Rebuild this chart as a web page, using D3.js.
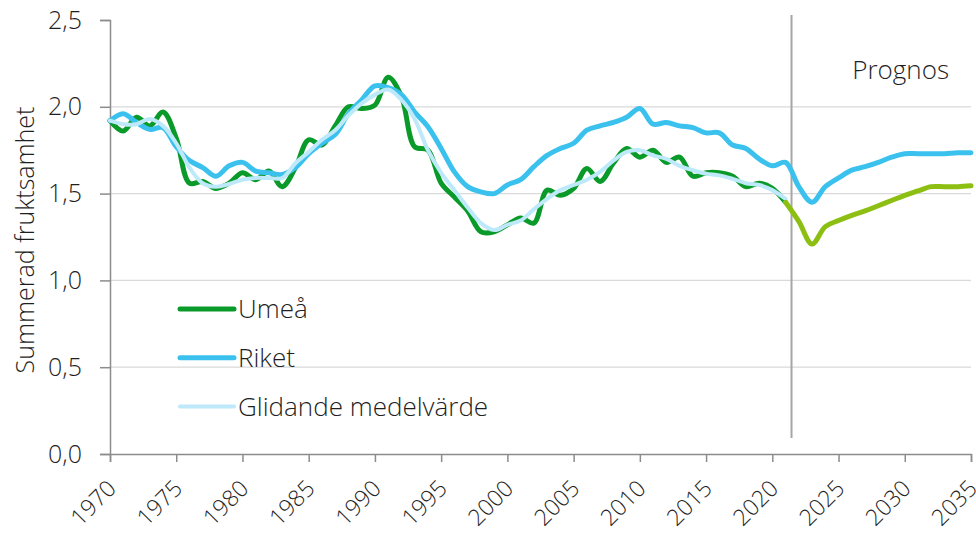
<!DOCTYPE html>
<html>
<head>
<meta charset="utf-8">
<script src="https://cdn.jsdelivr.net/npm/d3@7"></script>
<style>
  body { margin: 0; background: #fff; }
  svg text { font-family: "Open Sans", "Noto Sans", sans-serif; font-weight: 350; fill: #1f1f1f; }
</style>
</head>
<body>
<svg id="grafico" width="976" height="535"></svg>
<script>
// data
const anos_hist = d3.range(1970, 2022);
const anos_riket = d3.range(1970, 2036);
const anos_prognos = d3.range(2021, 2036);

const umea = [1.92,1.86,1.94,1.89,1.97,1.82,1.56,1.57,1.53,1.56,1.62,1.58,1.63,1.54,1.65,1.81,1.78,1.89,2.00,1.99,2.01,2.17,2.06,1.77,1.75,1.56,1.48,1.40,1.28,1.28,
  1.32,1.36,1.33,1.52,1.49,1.53,1.645,1.57,1.675,1.76,1.71,1.75,1.68,1.71,1.60,1.62,1.62,1.60,1.54,1.56,1.53,1.45];

const riket = [1.92,1.96,1.91,1.87,1.88,1.77,1.69,1.65,1.60,1.66,1.68,1.63,1.62,1.61,1.65,1.73,1.79,1.84,1.96,2.04,2.12,2.11,2.07,1.97,1.885,1.76,1.625,1.54,1.51,1.50,
  1.55,1.58,1.655,1.72,1.76,1.79,1.865,1.89,1.91,1.94,1.99,1.90,1.91,1.89,1.88,1.85,1.85,1.78,1.76,1.70,1.66,1.68,1.54,1.45,1.54,1.59,1.635,1.655,1.68,1.71,
  1.73,1.73,1.73,1.73,1.735,1.735];

const glidande = [1.92,1.90,1.90,1.93,1.89,1.79,1.65,1.56,1.54,1.555,1.58,1.59,1.59,1.59,1.675,1.74,1.81,1.865,1.95,2.02,2.07,2.10,2.04,1.93,1.75,1.62,1.52,1.42,1.33,1.29,
  1.32,1.345,1.41,1.47,1.52,1.55,1.58,1.625,1.69,1.74,1.75,1.72,1.70,1.66,1.635,1.615,1.605,1.585,1.56,1.55,1.52,1.47];

const prognos = [1.45,1.34,1.21,1.31,1.345,1.375,1.40,1.43,1.46,1.49,1.515,1.54,1.54,1.54,1.545];

const ticks_x = d3.range(1970, 2036, 5);
const ticks_y = [0, 0.5, 1.0, 1.5, 2.0, 2.5];
const legenda = ["Umeå", "Riket", "Glidande medelvärde"];
const ano_prognos = 2021.45;

const cores = { umea: "#0a9a2a", riket: "#3bc1ee", glidande: "#bde9fa", prognos: "#8cbf12" };

const svg = d3.select("#grafico");
const x = d3.scaleLinear().domain([1970, 2035]).range([110, 971]);
const y = d3.scaleLinear().domain([0, 2.5]).range([454, 20]);

// grid (no line at top)
svg.append("g").selectAll("line")
  .data(ticks_y.filter(d => d > 0 && d < 2.5))
  .enter().append("line")
  .attr("x1", x(1970)).attr("x2", x(2035))
  .attr("y1", d => y(d)).attr("y2", d => y(d))
  .attr("stroke", "#d9d9d9").attr("stroke-width", 1.3);

// axes
const eixo_y = svg.append("g").attr("transform", `translate(${x(1970)},0)`)
  .call(d3.axisLeft(y).tickValues(ticks_y).tickSize(10).tickPadding(18)
    .tickFormat(d => d3.format(".1f")(d).replace(".", ",")));
eixo_y.selectAll("text").style("font-size", "25px");

const eixo_x = svg.append("g").attr("transform", `translate(0,${y(0)})`)
  .call(d3.axisBottom(x).tickValues(ticks_x).tickSize(8).tickFormat(d3.format("d")));
eixo_x.selectAll("text")
  .style("font-size", "23px")
  .attr("text-anchor", "end")
  .attr("dy", null)
  .attr("y", null)
  .attr("transform", "translate(7,36) rotate(-45)");

svg.selectAll(".domain, .tick line").attr("stroke", "#8c8c8c").attr("stroke-width", 1.5);

// y title
svg.append("text")
  .attr("transform", `translate(34,${y(1.25) + 3}) rotate(-90)`)
  .attr("text-anchor", "middle")
  .style("font-size", "25px")
  .text("Summerad fruktsamhet");

// prognos divider
svg.append("line")
  .attr("x1", x(ano_prognos)).attr("x2", x(ano_prognos))
  .attr("y1", 15).attr("y2", 438)
  .attr("stroke", "#a6a6a6").attr("stroke-width", 2);

svg.append("text")
  .attr("x", 949).attr("y", 79)
  .attr("text-anchor", "end")
  .style("font-size", "26px")
  .text("Prognos");

const linha = d3.line()
  .x(d => x(d[0]))
  .y(d => y(d[1]))
  .curve(d3.curveCatmullRom.alpha(0.5));

function desenhar(anos, valores, cor, largura) {
  svg.append("path")
    .datum(d3.zip(anos, valores))
    .attr("fill", "none")
    .attr("stroke", cor)
    .attr("stroke-width", largura)
    .attr("stroke-linejoin", "round")
    .attr("stroke-linecap", "round")
    .attr("d", linha);
}

desenhar(anos_hist, umea, cores.umea, 5);
desenhar(anos_riket, riket, cores.riket, 5);
desenhar(anos_hist, glidande, cores.glidande, 4);
desenhar(anos_prognos, prognos, cores.prognos, 5);

// legend
const cores_legenda = [cores.umea, cores.riket, cores.glidande];
const leg = svg.append("g").selectAll("g")
  .data(legenda)
  .enter().append("g")
  .attr("transform", (d, i) => `translate(180,${309 + i * 48.7})`);
leg.append("line")
  .attr("x1", 0).attr("x2", 54)
  .attr("stroke", (d, i) => cores_legenda[i])
  .attr("stroke-width", (d, i) => i == 2 ? 4 : 5)
  .attr("stroke-linecap", "round");
leg.append("text")
  .attr("x", 58).attr("dy", "0.35em")
  .style("font-size", "26px")
  .text(d => d);
</script>
</body>
</html>
